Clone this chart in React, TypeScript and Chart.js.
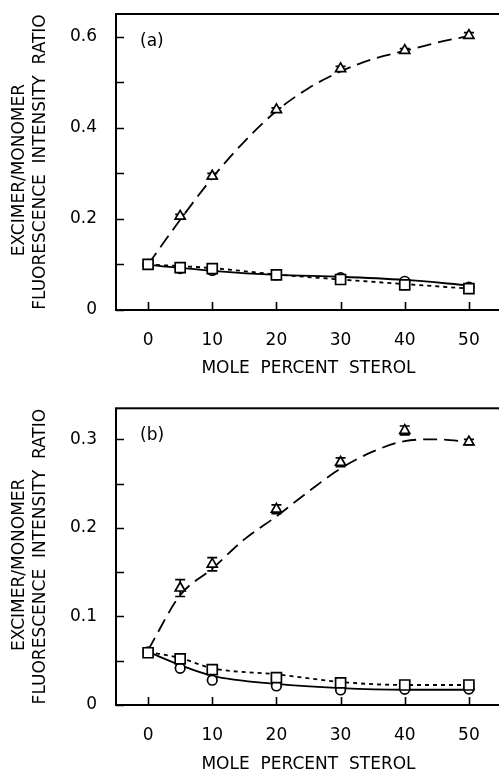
import React, { useEffect, useRef } from "react";
import { Chart, registerables } from "chart.js";

Chart.register(...registerables);

const FONT = "'DejaVu Sans', Verdana, sans-serif";

// Shared text / ticks
const xTitle = "MOLE  PERCENT  STEROL";
const yTitle = ["EXCIMER/MONOMER   ", "FLUORESCENCE  INTENSITY  RATIO"];
const xTicks = [0, 10, 20, 30, 40, 50];

// Panel (a)
const aLabel = "(a)";
const aYMajor = [0, 0.2, 0.4, 0.6];
const aYMinor = [0.1, 0.3, 0.5];
const aPointX = [0, 5, 10, 20, 30, 40, 50];
const aTriX = [5, 10, 20, 30, 40, 50];
const aTriangle = [0.206, 0.294, 0.44, 0.53, 0.57, 0.603];
const aTriangleErr = [0.004, 0.006, 0.004, 0.005, 0.004, 0.006];
const aCircle = [0.1, 0.091, 0.087, 0.077, 0.071, 0.063, 0.05];
const aSquare = [0.1, 0.093, 0.091, 0.077, 0.067, 0.055, 0.047];
const aDashFitX = [0, 5, 10, 15, 20, 25, 30, 35, 40, 45, 50];
const aDashFit = [0.1, 0.198, 0.29, 0.37, 0.437, 0.487, 0.524, 0.551, 0.569, 0.587, 0.602];
const aLineFitX = [0, 10, 20, 30, 40, 50];
const aSolidFit = [0.099, 0.086, 0.077, 0.073, 0.066, 0.054];
const aDotFit = [0.1, 0.092, 0.078, 0.067, 0.057, 0.047];

// Panel (b)
const bLabel = "(b)";
const bYMajor = [0, 0.1, 0.2, 0.3];
const bYMinor = [0.05, 0.15, 0.25];
const bPointX = [0, 5, 10, 20, 30, 40, 50];
const bTriX = [5, 10, 20, 30, 40, 50];
const bTriangle = [0.132, 0.159, 0.221, 0.274, 0.31, 0.297];
const bTriangleErr = [0.0095, 0.0075, 0.005, 0.005, 0.005, 0.003];
const bCircle = [0.06, 0.0415, 0.028, 0.0215, 0.017, 0.0178, 0.018];
const bSquare = [0.059, 0.052, 0.04, 0.031, 0.025, 0.0226, 0.0226];
const bDashFitX = [0, 5, 10, 15, 20, 25, 30, 35, 40, 45, 50];
const bDashFit = [0.062, 0.124, 0.154, 0.187, 0.213, 0.241, 0.267, 0.286, 0.298, 0.3, 0.297];
const bLineFitX = [0, 5, 10, 20, 30, 40, 50];
const bSolidFit = [0.06, 0.045, 0.033, 0.0238, 0.019, 0.0172, 0.0172];
const bDotFit = [0.06, 0.053, 0.0415, 0.0347, 0.026, 0.0226, 0.0226];

const pts = (xs: number[], ys: number[]) => xs.map((x, i) => ({ x, y: ys[i] }));

const framePlugin = {
  id: "frame",
  afterDraw(chart: any, _args: any, opts: any) {
    const { ctx, chartArea, scales } = chart;
    const { left, right, top, bottom } = chartArea;
    ctx.save();
    ctx.strokeStyle = "#000";
    ctx.lineWidth = 2;
    ctx.strokeRect(left, top, right - left, bottom - top);
    ctx.lineWidth = 1.6;
    ctx.beginPath();
    const yt = [...opts.yMajor, ...opts.yMinor];
    for (const v of yt) {
      const y = Math.round(scales.y.getPixelForValue(v)) + 0.5;
      ctx.moveTo(left, y);
      ctx.lineTo(left + 8, y);
    }
    for (const v of opts.xTicks) {
      const x = Math.round(scales.x.getPixelForValue(v)) + 0.5;
      ctx.moveTo(x, bottom);
      ctx.lineTo(x, bottom - 8);
    }
    ctx.stroke();
    ctx.fillStyle = "#000";
    ctx.font = `17px ${FONT}`;
    ctx.textAlign = "left";
    ctx.textBaseline = "middle";
    ctx.fillText(opts.label, left + 24, top + opts.labelDy);
    ctx.restore();
  },
};

const errorBarPlugin = {
  id: "errbars",
  beforeDatasetDraw(chart: any, args: any, opts: any) {
    if (args.index !== opts.datasetIndex) return;
    const { ctx } = chart;
    const ys = chart.scales.y;
    const data = chart.data.datasets[args.index].data;
    ctx.save();
    ctx.strokeStyle = "#000";
    ctx.lineWidth = 1.7;
    ctx.beginPath();
    args.meta.data.forEach((pt: any, i: number) => {
      const v = data[i].y;
      const e = opts.errors[i];
      const y1 = ys.getPixelForValue(v + e);
      const y2 = ys.getPixelForValue(v - e);
      const x = pt.x;
      ctx.moveTo(x, y1);
      ctx.lineTo(x, y2);
      ctx.moveTo(x - 5, y1);
      ctx.lineTo(x + 5, y1);
      ctx.moveTo(x - 5, y2);
      ctx.lineTo(x + 5, y2);
    });
    ctx.stroke();
    ctx.restore();
  },
};

type PanelProps = {
  top: number;
  height: number;
  chartTop: number;
  chartBottom: number;
  yMax: number;
  yMajor: number[];
  yMinor: number[];
  label: string;
  labelDy: number;
  pointX: number[];
  triX: number[];
  tri: number[];
  triErr: number[];
  circ: number[];
  sq: number[];
  dashX: number[];
  dash: number[];
  lineX: number[];
  solid: number[];
  dot: number[];
};

const marker = (style: string, r: number) => ({
  showLine: false,
  pointStyle: style,
  pointRadius: r,
  pointHoverRadius: r,
  pointBackgroundColor: "#fff",
  pointBorderColor: "#000",
  pointBorderWidth: 1.7,
  borderColor: "#000",
  backgroundColor: "#fff",
});

const fitLine = (dash: number[]) => ({
  pointRadius: 0,
  pointHoverRadius: 0,
  borderColor: "#000",
  borderWidth: 1.8,
  borderDash: dash,
  fill: false,
  cubicInterpolationMode: "monotone" as const,
  tension: 0.4,
});

function Panel(p: PanelProps) {
  const ref = useRef<HTMLCanvasElement | null>(null);
  useEffect(() => {
    if (!ref.current) return;
    const chart = new Chart(ref.current, {
      type: "line",
      data: {
        datasets: [
          { label: "Square", data: pts(p.pointX, p.sq), ...marker("rect", 7.07), order: 0 } as any,
          { label: "Triangle", data: pts(p.triX, p.tri), ...marker("triangle", 5.8), order: 1 } as any,
          { label: "Circle", data: pts(p.pointX, p.circ), ...marker("circle", 4.8), order: 2 } as any,
          { label: "Triangle fit", data: pts(p.dashX, p.dash), ...fitLine([14, 7]), order: 3 } as any,
          { label: "Circle fit", data: pts(p.lineX, p.solid), ...fitLine([]), order: 4 } as any,
          { label: "Square fit", data: pts(p.lineX, p.dot), ...fitLine([4, 4]), order: 5 } as any,
        ],
      },
      options: {
        animation: false,
        responsive: false,
        maintainAspectRatio: false,
        events: [],
        layout: { padding: 0, autoPadding: false },
        plugins: {
          legend: { display: false },
          tooltip: { enabled: false },
          frame: { yMajor: p.yMajor, yMinor: p.yMinor, xTicks, label: p.label, labelDy: p.labelDy },
          errbars: { datasetIndex: 1, errors: p.triErr },
        } as any,
        scales: {
          x: {
            type: "linear",
            min: -5,
            max: 55,
            grid: { display: false, drawTicks: false },
            border: { display: false },
            afterBuildTicks: (s: any) => {
              s.ticks = xTicks.map((v) => ({ value: v }));
            },
            afterFit: (s: any) => {
              s.height = p.height - p.chartBottom;
              s.paddingLeft = 0;
              s.paddingRight = 2;
              s.paddingTop = 0;
              s.paddingBottom = 0;
            },
            ticks: {
              color: "#000",
              font: { family: FONT, size: 17 },
              padding: 20,
              maxRotation: 0,
              autoSkip: false,
              callback: (v: any) => String(v),
            },
            title: {
              display: true,
              text: xTitle,
              color: "#000",
              font: { family: FONT, size: 17, lineHeight: 1.2 },
              padding: { top: 0, bottom: 6 },
            },
          },
          y: {
            type: "linear",
            min: 0,
            max: p.yMax,
            grid: { display: false, drawTicks: false },
            border: { display: false },
            afterBuildTicks: (s: any) => {
              s.ticks = p.yMajor.map((v) => ({ value: v }));
            },
            afterFit: (s: any) => {
              s.width = 116;
              s.paddingTop = p.chartTop;
              s.paddingBottom = 0;
              s.paddingLeft = 0;
              s.paddingRight = 0;
            },
            ticks: {
              color: "#000",
              font: { family: FONT, size: 17 },
              padding: 19,
              autoSkip: false,
              callback: (v: any) => String(Number(Number(v).toFixed(2))),
            },
            title: {
              display: true,
              text: yTitle,
              color: "#000",
              font: { family: FONT, size: 17, lineHeight: 1.22 },
              padding: { top: 9.6, bottom: 0 },
            },
          },
        },
      },
      plugins: [framePlugin, errorBarPlugin],
    } as any);
    return () => chart.destroy();
  }, []);
  return (
    <canvas
      ref={ref}
      width={503}
      height={p.height}
      style={{ position: "absolute", left: 0, top: p.top, width: 503, height: p.height }}
    />
  );
}

export default function App() {
  return (
    <div
      style={{
        position: "absolute",
        left: 0,
        top: 0,
        width: 499,
        height: 771,
        overflow: "hidden",
        background: "#fff",
      }}
    >
      <Panel
        top={0}
        height={385}
        chartTop={14}
        chartBottom={310}
        yMax={0.65}
        yMajor={aYMajor}
        yMinor={aYMinor}
        label={aLabel}
        labelDy={28}
        pointX={aPointX}
        triX={aTriX}
        tri={aTriangle}
        triErr={aTriangleErr}
        circ={aCircle}
        sq={aSquare}
        dashX={aDashFitX}
        dash={aDashFit}
        lineX={aLineFitX}
        solid={aSolidFit}
        dot={aDotFit}
      />
      <Panel
        top={385}
        height={396}
        chartTop={23.3}
        chartBottom={320}
        yMax={0.335}
        yMajor={bYMajor}
        yMinor={bYMinor}
        label={bLabel}
        labelDy={27}
        pointX={bPointX}
        triX={bTriX}
        tri={bTriangle}
        triErr={bTriangleErr}
        circ={bCircle}
        sq={bSquare}
        dashX={bDashFitX}
        dash={bDashFit}
        lineX={bLineFitX}
        solid={bSolidFit}
        dot={bDotFit}
      />
    </div>
  );
}
